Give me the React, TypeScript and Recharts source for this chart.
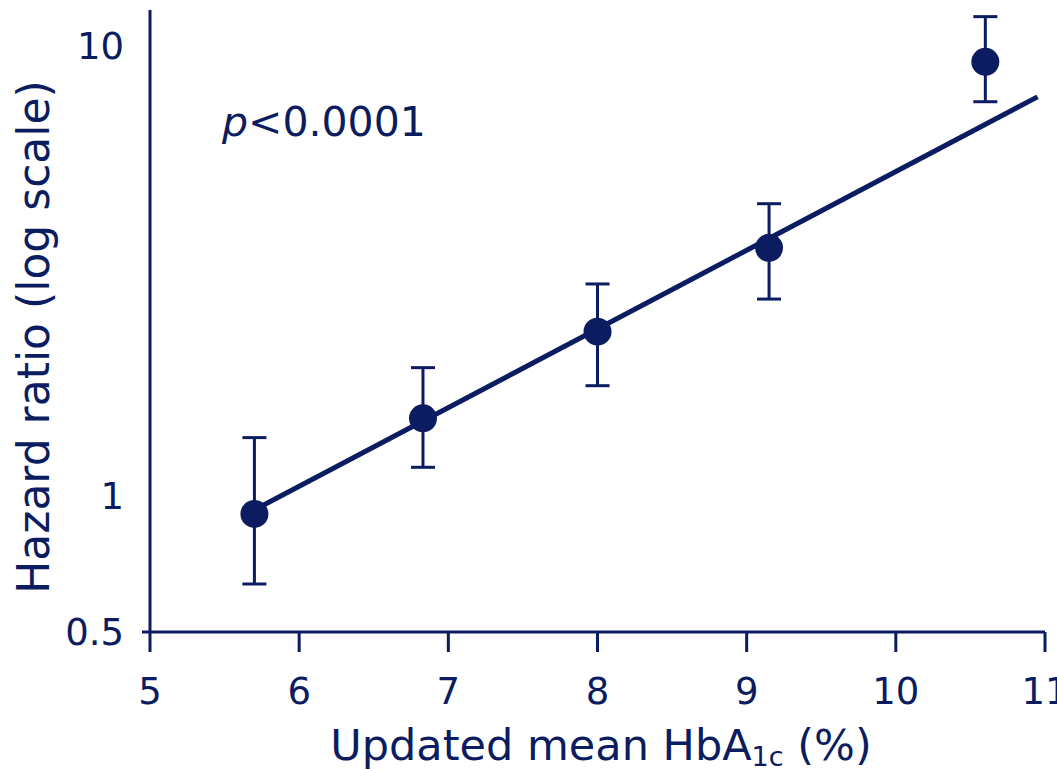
import React from "react";
import {
  ComposedChart,
  Scatter,
  Line,
  XAxis,
  YAxis,
  ErrorBar,
  Label,
} from "recharts";

const NAVY = "#0b1c60";
const FONT = "'DejaVu Sans', Verdana, sans-serif";

// mean HbA1c categories (%)
const hba1c = [5.7, 6.83, 8.0, 9.15, 10.6];
// hazard ratio and 95% CI
const hazard = [0.914, 1.49, 2.32, 3.56, 9.21];
const ciLow = [0.639, 1.16, 1.76, 2.74, 7.51];
const ciHigh = [1.35, 1.93, 2.96, 4.46, 11.6];

// fitted log-linear trend, start and end
const trendX = [5.7, 10.95];
const trendY = [0.933, 7.7];

const xTicks = [5, 6, 7, 8, 9, 10, 11];
const yTicks = [0.5, 1, 10];

const points = hba1c.map((x, i) => ({
  x,
  y: hazard[i],
  err: [hazard[i] - ciLow[i], ciHigh[i] - hazard[i]],
}));
const trend = trendX.map((x, i) => ({ x, y: trendY[i] }));

function XTick({ x, y, payload }: any) {
  return (
    <text
      x={x}
      y={y}
      dy={52}
      textAnchor="middle"
      fill={NAVY}
      fontSize={37}
      fontFamily={FONT}
    >
      {payload.value}
    </text>
  );
}

function YTick({ x, y, payload }: any) {
  return (
    <g>
      {payload.value === 0.5 && (
        <line x1={x} y1={y} x2={x + 8} y2={y} stroke={NAVY} strokeWidth={3} />
      )}
      <text
        x={x - 18}
        y={y}
        dy={13}
        textAnchor="end"
        fill={NAVY}
        fontSize={37}
        fontFamily={FONT}
      >
        {payload.value}
      </text>
    </g>
  );
}

function XLabel() {
  return (
    <text
      x={601}
      y={760}
      textAnchor="middle"
      fill={NAVY}
      fontSize={43}
      fontFamily={FONT}
    >
      Updated mean HbA
      <tspan fontSize={27} dy={6}>
        1c
      </tspan>
      <tspan dy={-6}> (%)</tspan>
    </text>
  );
}

function YLabel() {
  return (
    <text
      x={0}
      y={0}
      transform="translate(49, 337) rotate(-90)"
      textAnchor="middle"
      fill={NAVY}
      fontSize={44}
      fontFamily={FONT}
    >
      Hazard ratio (log scale)
    </text>
  );
}

export default function App() {
  return (
    <div style={{ position: "absolute", left: 0, top: 0, background: "#fff" }}>
      <ComposedChart
        width={1057}
        height={771}
        margin={{ top: 10, right: 12, left: 0, bottom: 0 }}
      >
        <XAxis
          type="number"
          dataKey="x"
          domain={[5, 11]}
          ticks={xTicks}
          allowDataOverflow
          height={139}
          stroke={NAVY}
          strokeWidth={3}
          tickSize={20}
          tickMargin={0}
          tick={<XTick />}
        >
          <Label content={<XLabel />} />
        </XAxis>
        <YAxis
          type="number"
          dataKey="y"
          scale="log"
          domain={[0.5, 12]}
          ticks={yTicks}
          allowDataOverflow
          width={150}
          stroke={NAVY}
          strokeWidth={3}
          tickLine={false}
          tickSize={8}
          tickMargin={0}
          tick={<YTick />}
        >
          <Label content={<YLabel />} />
        </YAxis>
        <Line
          data={trend}
          dataKey="y"
          stroke={NAVY}
          strokeWidth={5}
          dot={false}
          activeDot={false}
          isAnimationActive={false}
        />
        <Scatter
          data={points}
          dataKey="y"
          fill={NAVY}
          isAnimationActive={false}
          shape={(p: any) => <circle cx={p.cx} cy={p.cy} r={14} fill={NAVY} />}
        >
          <ErrorBar
            dataKey="err"
            direction="y"
            width={12}
            stroke={NAVY}
            strokeWidth={3}
            isAnimationActive={false}
          />
        </Scatter>
      </ComposedChart>
      <svg
        width={1057}
        height={771}
        style={{ position: "absolute", left: 0, top: 0, pointerEvents: "none" }}
      >
        <text x={222} y={136} fill={NAVY} fontSize={41} fontFamily={FONT}>
          <tspan fontStyle="italic">p</tspan>&lt;0.0001
        </text>
      </svg>
    </div>
  );
}
